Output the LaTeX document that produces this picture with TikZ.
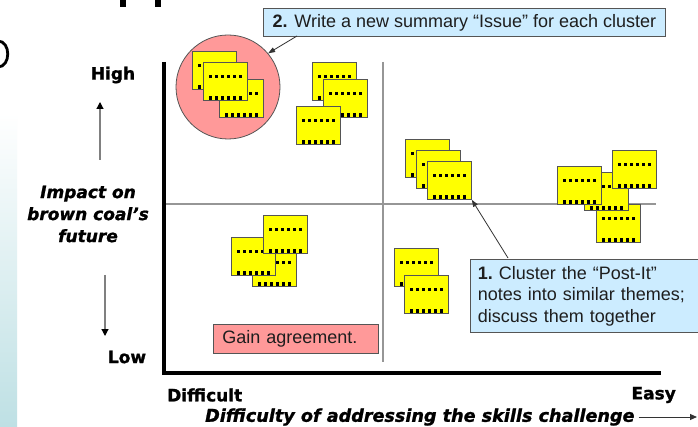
\documentclass[tikz,border=0pt]{standalone}
\usepackage{fontspec}
\setmainfont{Liberation Sans}
\newfontfamily\lblfont{DejaVu Sans}[BoldFeatures={FakeBold=1.2}, BoldItalicFeatures={FakeBold=1.2}]
\usetikzlibrary{arrows.meta}
\definecolor{calloutblue}{RGB}{204,236,255}
\definecolor{pinkfill}{RGB}{255,153,153}
\definecolor{noteyellow}{RGB}{255,255,0}
\definecolor{edgegray}{RGB}{85,85,85}
\definecolor{divgray}{RGB}{150,150,150}
\definecolor{txt}{RGB}{30,30,30}
\definecolor{stripteal}{RGB}{190,224,228}
\tikzset{
  postit/.style={draw=edgegray, line width=0.8pt, fill=noteyellow, minimum width=44pt, minimum height=38pt,
    inner sep=0pt, anchor=north west,
    path picture={
      \foreach \i in {0,...,5}{
        \fill[black] ([xshift=5.3pt+\i*6.1pt, yshift=-12.5pt]path picture bounding box.north west) rectangle ++(3.2pt,-3.2pt);
        \fill[black] ([xshift=5.3pt+\i*6.1pt, yshift=-34pt]path picture bounding box.north west) rectangle ++(3.2pt,-3.2pt);
      }
    }},
  callout/.style={draw=edgegray, line width=0.8pt, fill=calloutblue, text=txt, inner sep=0pt,
    font=\fontsize{18}{21.5}\selectfont},
  pinkbox/.style={draw=edgegray, line width=0.8pt, fill=pinkfill, text=txt, inner sep=0pt,
    font=\fontsize{18}{21.5}\selectfont},
  axislabel/.style={font=\lblfont\bfseries\fontsize{17}{22}\selectfont, text=black, inner sep=0pt},
  axisarrow/.style={draw=gray, line width=1.2pt, -{Triangle[length=7pt,width=7pt,fill=black,color=black]}},
  callarrow/.style={draw=black!80, line width=0.8pt, -{Triangle[length=7pt,width=5pt]}},
}
\begin{document}
\begin{tikzpicture}[x=1pt,y=-1pt]
\clip (0,0) rectangle (698,427);
\fill[white] (0,0) rectangle (698,427);
% slide fragments
\shade[top color=white, bottom color=stripteal] (0,113) rectangle (17,427);
\fill[black] (120,0) rectangle (126,7);
\fill[black] (155,0) rectangle (161,7);
\draw[black, line width=2.8pt] (-2,41) .. controls (11,41) and (11,67) .. (-2,67);

% axes and dividers
\coordinate (ytop) at (164,62);
\coordinate (orig) at (164,373);
\coordinate (xend) at (661,373);
\coordinate (vtop) at (383,62);
\coordinate (vbot) at (383,362);
\coordinate (hleft) at (164,204);
\coordinate (hright) at (656,204);
\draw[divgray, line width=1.6pt] (vtop) -- (vbot);
\draw[divgray, line width=1.6pt] (hleft) -- (hright);
\draw[black, line width=3.6pt, line join=miter] (ytop) -- (orig) -- (xend);

% group circle
\node[circle, draw=edgegray, line width=0.8pt, fill=pinkfill, minimum size=104pt, inner sep=0pt] (grp) at (228,87) {};

% cluster 1
\node[postit] (n1a) at (192,51) {};
\node[postit] (n1c) at (219,79) {};
\node[postit] (n1b) at (203,62) {};
% cluster 2
\node[postit] (n2a) at (312,62) {};
\node[postit] (n2b) at (323,79) {};
\node[postit] (n2c) at (296,106) {};
% cluster 3
\node[postit] (n3a) at (405,139) {};
\node[postit] (n3b) at (416,150) {};
\node[postit] (n3c) at (427,161) {};
% cluster 4
\node[postit] (n4d) at (596,204) {};
\node[postit] (n4b) at (584,172) {};
\node[postit] (n4a) at (557,166) {};
\node[postit] (n4c) at (612,150) {};
% cluster 5
\node[postit] (n5c) at (252,248) {};
\node[postit] (n5b) at (231,237) {};
\node[postit] (n5a) at (263,215) {};
% cluster 6
\node[postit] (n6a) at (394,248) {};
\node[postit] (n6b) at (404,275) {};

% callouts
\node[callout, anchor=north west, minimum width=402pt, minimum height=28pt] (c2) at (263,8)
  {\textbf{2.} Write a new summary “Issue” for each cluster};
\node[callout, anchor=north west, minimum width=234pt, minimum height=73pt, text width=219pt,
  inner xsep=7.5pt, align=left] (c1) at (470,259)
  {\textbf{1.}~Cluster the “Post-It”\\notes into similar themes;\\discuss them together};
\node[pinkbox, anchor=north west, minimum height=29pt, text width=147pt, inner xsep=9pt, align=left] (gain) at (213,324)
  {Gain agreement.};

\coordinate (a2s) at (297,36);
\draw[callarrow] (a2s) -- (grp.40);
\coordinate (a1s) at (508,258);
\draw[callarrow] (a1s) -- (n3c.south east);

% axis labels
\node[axislabel] (high) at (113,75) {High};
\node[axislabel] (low) at (127,357) {Low};
\node[axislabel, font=\lblfont\bfseries\itshape\fontsize{17}{22}\selectfont, align=center] (impact) at (88,214)
  {Impact on\\brown coal’s\\future};
\coordinate (upbot) at (100,160);
\coordinate (uptop) at (100,102);
\draw[axisarrow] (upbot) -- (uptop);
\coordinate (dntop) at (105,275);
\coordinate (dnbot) at (105,336);
\draw[axisarrow] (dntop) -- (dnbot);

\node[axislabel, anchor=west] (difficult) at (167,395) {Difficult};
\node[axislabel, anchor=east] (easy) at (676,395) {Easy};
\node[axislabel, anchor=west, font=\lblfont\bfseries\itshape\fontsize{17.6}{22}\selectfont] (xtitle) at (205,417)
  {Difficulty of addressing the skills challenge};
\coordinate (xarrowend) at (697,417);
\draw[draw=black!80, line width=1pt, -{Triangle[length=7pt,width=6pt]}] (xtitle.east) ++(4pt,0) -- (xarrowend);
\end{tikzpicture}
\end{document}
